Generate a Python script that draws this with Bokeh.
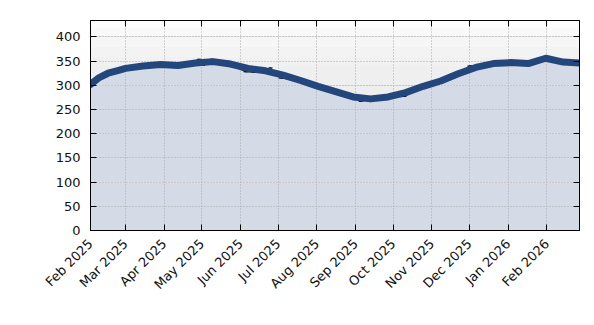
import pandas as pd
from datetime import datetime
from bokeh.plotting import figure
from bokeh.models import (Range1d, LinearAxis, DatetimeAxis, MonthsTicker, Grid,
                          SingleIntervalTicker, DatetimeTickFormatter, CustomJSTickFormatter)
from bokeh.embed import file_html
from bokeh.resources import INLINE
from math import pi

# smoothed series (thick blue line)
smooth_dates = ["2025-02-01", "2025-02-08", "2025-02-15", "2025-02-22", "2025-03-01",
                "2025-03-15", "2025-03-29", "2025-04-12", "2025-04-26", "2025-05-10",
                "2025-05-24", "2025-06-07", "2025-06-21", "2025-07-05", "2025-07-19",
                "2025-08-02", "2025-08-16", "2025-08-30", "2025-09-13", "2025-09-27",
                "2025-10-11", "2025-10-25", "2025-11-08", "2025-11-22", "2025-12-06",
                "2025-12-20", "2026-01-03", "2026-01-17", "2026-01-31", "2026-02-14",
                "2026-02-27"]
smooth_values = [302, 316, 325, 330, 335, 340, 343, 341, 346, 349, 344, 335, 330, 321,
                 310, 298, 287, 276, 272, 276, 285, 298, 309, 324, 337, 345, 347, 345,
                 356, 348, 346]

# raw series (thin black line with markers)
raw_dates = ["2025-02-01", "2025-02-15", "2025-03-01", "2025-03-15", "2025-03-29",
             "2025-04-12", "2025-04-29", "2025-05-02", "2025-05-09", "2025-05-23",
             "2025-06-05", "2025-06-12", "2025-06-25", "2025-07-03", "2025-07-19",
             "2025-08-02", "2025-08-16", "2025-08-30", "2025-09-05", "2025-09-20",
             "2025-10-10", "2025-10-25", "2025-11-08", "2025-11-22", "2025-12-01",
             "2025-12-20", "2026-01-03", "2026-01-17", "2026-01-31", "2026-02-14",
             "2026-02-27"]
raw_values = [300, 325, 335, 340, 343, 339, 354, 341, 354, 344, 328, 327, 336, 315, 310,
              298, 287, 276, 267, 274, 277, 298, 309, 324, 340, 345, 347, 346, 356, 348,
              346]

y_ticks_step = 50
band_edges = [0, 300, 340, 360, 380, 400, 420, 434]
band_colors = ["#eeeeee", "#efefef", "#f1f1f1", "#f3f3f3", "#f6f6f6", "#f9f9f9", "#fdfdfd"]

sx = pd.to_datetime(smooth_dates)
rx = pd.to_datetime(raw_dates)
x0 = datetime(2025, 2, 1)
x1 = datetime(2026, 2, 27)

p = figure(width=594, height=325, output_backend="svg", toolbar_location=None,
           x_axis_type=None, y_axis_location=None,
           x_range=Range1d(x0, x1), y_range=Range1d(0, 434),
           min_border_left=90, min_border_right=15, min_border_top=20, min_border_bottom=95)
p.background_fill_color = "white"
p.border_fill_color = "white"
p.outline_line_color = "black"

# background gradient bands
p.quad(left=[x0] * len(band_colors), right=[x1] * len(band_colors),
       bottom=band_edges[:-1], top=band_edges[1:], fill_color=band_colors,
       line_color=None, level="image")

# area
p.varea(x=sx, y1=0, y2=smooth_values, fill_color="#d4dae6", level="image")

p.line(rx, raw_values, line_color="black", line_width=1)
p.scatter(rx, raw_values, marker="dash", size=4, line_color="black")
p.line(sx, smooth_values, line_color="#23477d", line_width=7, line_join="round", line_cap="round")

mt = MonthsTicker(months=list(range(1, 13)))
fmt = DatetimeTickFormatter(months="%b %Y", days="%b %Y")
blank = CustomJSTickFormatter(code="return ''")

def style(ax, labels):
    ax.major_tick_in = 6
    ax.major_tick_out = 0
    ax.minor_tick_in = 0
    ax.minor_tick_out = 0
    ax.axis_line_color = "black"
    ax.major_tick_line_color = "black"
    if labels:
        ax.major_label_text_font = "DejaVu Sans"
        ax.major_label_text_font_size = "13px"
        ax.major_label_text_color = "#111111"
    else:
        ax.formatter = blank
        ax.major_label_standoff = 0

bottom = DatetimeAxis(ticker=mt, formatter=fmt)
style(bottom, True)
bottom.major_label_orientation = pi / 4
bottom.major_label_standoff = 11
p.add_layout(bottom, "below")

top = DatetimeAxis(ticker=mt)
style(top, False)
p.add_layout(top, "above")

left = LinearAxis(ticker=SingleIntervalTicker(interval=y_ticks_step))
style(left, True)
left.major_label_standoff = 10
p.add_layout(left, "left")

right = LinearAxis(ticker=SingleIntervalTicker(interval=y_ticks_step))
style(right, False)
p.add_layout(right, "right")

xg = Grid(dimension=0, ticker=mt, grid_line_color="#a8a8a8", grid_line_dash="1 2", level="underlay")
yg = Grid(dimension=1, ticker=SingleIntervalTicker(interval=y_ticks_step),
          grid_line_color="#a8a8a8", grid_line_dash="1 2", level="underlay")
p.add_layout(xg)
p.add_layout(yg)

open("out.html", "w").write(file_html(p, INLINE))
